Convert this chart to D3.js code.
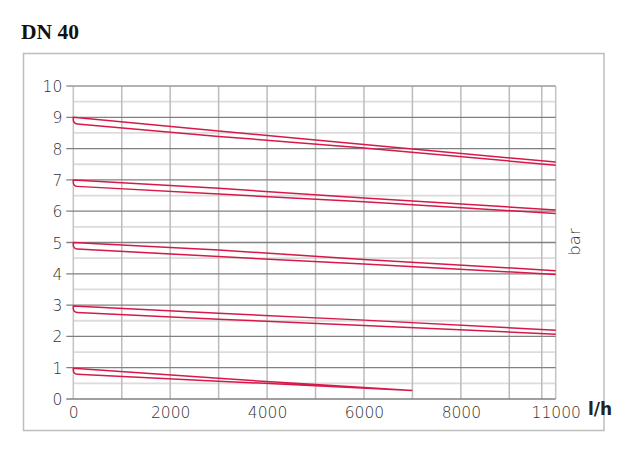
<!DOCTYPE html>
<html><head><meta charset="utf-8">
<script src="https://cdn.jsdelivr.net/npm/d3@7"></script>
<style>
html,body{margin:0;padding:0;background:#fff;}
svg{display:block;}
</style></head>
<body>
<svg id="chart" width="630" height="456"></svg>
<script>
// ---- data ----
const title = "DN 40";
const xTickValues = [0, 2000, 4000, 6000, 8000, 11000];
const xGridValues = [0, 1000, 2000, 3000, 4000, 5000, 6000, 7000, 8000, 9000, 10400, 11000];
const yTickValues = [0, 1, 2, 3, 4, 5, 6, 7, 8, 9, 10];
const yMinorValues = [0.5, 1.5, 2.5, 3.5, 4.5, 5.5, 6.5, 7.5, 8.5, 9.5];
const flowPoints = [0, 3000, 6000, 11000];
const flowPointsLow = [0, 3000, 5000, 7000];
// each setting: upper branch and lower branch (bar) at flowPoints
const upper9 = [9.0, 8.56, 8.13, 7.57];
const lower9 = [8.8, 8.39, 8.02, 7.47];
const upper7 = [7.0, 6.73, 6.42, 6.04];
const lower7 = [6.8, 6.55, 6.30, 5.93];
const upper5 = [5.0, 4.76, 4.46, 4.10];
const lower5 = [4.8, 4.55, 4.31, 3.98];
const upper3 = [2.97, 2.74, 2.52, 2.20];
const lower3 = [2.77, 2.55, 2.35, 2.07];
const upper1 = [0.98, 0.66, 0.46, 0.27];
const lower1 = [0.80, 0.57, 0.42, 0.27];

const series = [
  {x: flowPoints, up: upper9, lo: lower9},
  {x: flowPoints, up: upper7, lo: lower7},
  {x: flowPoints, up: upper5, lo: lower5},
  {x: flowPoints, up: upper3, lo: lower3},
  {x: flowPointsLow, up: upper1, lo: lower1}
];

// ---- layout ----
const svg = d3.select("#chart");
const x = d3.scaleLinear().domain([0, 9000, 11000]).range([73.3, 509.3, 555.7]);
const y = d3.scaleLinear().domain([0, 10]).range([399, 86]);
const red = "#d7194a";
const tickColor = "#333";
const tickFont = "'DejaVu Sans', sans-serif";

// title
svg.append("text").attr("x", 21).attr("y", 39)
  .attr("font-family", "'Liberation Serif', 'DejaVu Serif', serif")
  .attr("font-weight", "bold").attr("font-size", 21.5).attr("fill", "#111")
  .text(title);

// outer frame
svg.append("rect").attr("x", 23.5).attr("y", 53.5).attr("width", 580.5).attr("height", 377)
  .attr("fill", "none").attr("stroke", "#bdbdbd").attr("stroke-width", 1.5);

// minor horizontal grid
svg.append("g").selectAll("line").data(yMinorValues).join("line")
  .attr("x1", x(0)).attr("x2", x(11000))
  .attr("y1", d => y(d)).attr("y2", d => y(d))
  .attr("stroke", "#dcdcdc").attr("stroke-width", 1.8);

// vertical grid
svg.append("g").selectAll("line").data(xGridValues).join("line")
  .attr("x1", d => x(d)).attr("x2", d => x(d))
  .attr("y1", y(0)).attr("y2", y(10))
  .attr("stroke", d => (d === 0 || d === 11000) ? "#c4c4c4" : "#bcbcbc").attr("stroke-width", 1.5);

// major horizontal grid with tick extension
const yAxis = d3.axisLeft(y).tickValues(yTickValues).tickSize(0).tickPadding(10);
svg.append("g").selectAll("line").data(yTickValues).join("line")
  .attr("x1", x(0) - 7).attr("x2", x(11000))
  .attr("y1", d => y(d)).attr("y2", d => y(d))
  .attr("stroke", d => d === 10 ? "#9a9a9a" : "#808080").attr("stroke-width", 1.3);

const gy = svg.append("g").attr("transform", `translate(${x(0)},0)`).call(yAxis);
gy.select(".domain").remove();
gy.selectAll("text").attr("font-family", tickFont).attr("font-weight", 200).attr("font-size", 15.5)
  .attr("fill", tickColor).attr("x", -11).attr("dy", "0.36em");

const xAxis = d3.axisBottom(x).tickValues(xTickValues).tickSize(0).tickPadding(8)
  .tickFormat(d => String(d));
const gx = svg.append("g").attr("transform", `translate(0,${y(0)})`).call(xAxis);
gx.select(".domain").remove();
gx.selectAll("text").attr("font-family", tickFont).attr("font-weight", 200).attr("font-size", 15.5)
  .attr("fill", tickColor);

// axis unit labels
svg.append("text").attr("x", 588).attr("y", 415)
  .attr("font-family", "'DejaVu Sans', sans-serif").attr("font-weight", "bold")
  .attr("font-size", 17).attr("fill", "#222").text("l/h");
svg.append("text").attr("transform", `translate(580,242) rotate(-90)`)
  .attr("text-anchor", "middle")
  .attr("font-family", tickFont).attr("font-weight", 200).attr("font-size", 16.5).attr("fill", tickColor).text("bar");

// curves
const r = 4;
series.forEach(s => {
  const p = d3.path();
  const n = s.x.length;
  p.moveTo(x(s.x[n - 1]), y(s.up[n - 1]));
  for (let i = n - 2; i >= 0; i--) p.lineTo(x(s.x[i]), y(s.up[i]));
  const x0 = x(s.x[0]), yl0 = y(s.lo[0]);
  p.lineTo(x0, yl0 - r);
  const slope = (y(s.lo[1]) - yl0) / (x(s.x[1]) - x0);
  p.quadraticCurveTo(x0, yl0, x0 + r, yl0 + slope * r);
  for (let i = 1; i < n; i++) p.lineTo(x(s.x[i]), y(s.lo[i]));
  svg.append("path").attr("d", p.toString()).attr("fill", "none")
    .attr("stroke", red).attr("stroke-width", 1.5).attr("stroke-linejoin", "round");
});
</script>
</body></html>
